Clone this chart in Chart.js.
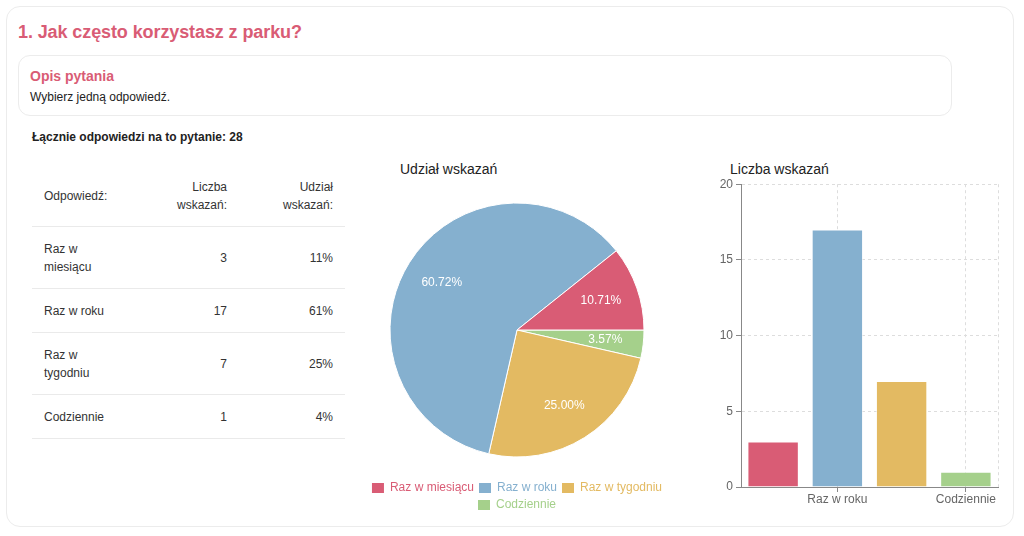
<!DOCTYPE html>
<html lang="pl">
<head>
<meta charset="utf-8">
<script src="https://cdn.jsdelivr.net/npm/chart.js@4"></script>
<style>
  body { margin: 0; background: #fff; font-family: "Liberation Sans", Arial, sans-serif; color: #333; }
  .card { position: absolute; left: 6px; top: 6px; width: 1006px; height: 519px; border: 1px solid #ececec; border-radius: 14px; }
  h1 { position: absolute; left: 18px; top: 20px; margin: 0; font-size: 18px; font-weight: bold; color: #d95c75; line-height: 24px; letter-spacing: -0.1px; }
  .desc { position: absolute; left: 18px; top: 55px; width: 932px; height: 59px; border: 1px solid #ececec; border-radius: 12px; }
  .desc .head { position: absolute; left: 11px; top: 12px; font-size: 14px; font-weight: bold; color: #d95c75; }
  .desc .text { position: absolute; left: 11px; top: 34px; font-size: 12px; color: #222; }
  .total { position: absolute; left: 32px; top: 130px; font-size: 12px; font-weight: bold; color: #222; }
  table { position: absolute; left: 32px; top: 165px; width: 313px; border-collapse: collapse; table-layout: fixed; font-size: 12px; color: #333; }
  th, td { padding: 12.5px 12px; line-height: 18px; font-weight: normal; vertical-align: middle; }
  td { border-top: 1px solid #eaeaea; }
  tbody tr:last-child td { border-bottom: 1px solid #eaeaea; }
  .num { text-align: right; }
  .ctitle { position: absolute; top: 161px; font-size: 14px; color: #222; }
  #pieBox { position: absolute; left: 362px; top: 180px; width: 310px; height: 341px; }
  #barBox { position: absolute; left: 700px; top: 174px; width: 310px; height: 336px; }
</style>
</head>
<body>
<div class="card"></div>
<h1>1. Jak często korzystasz z parku?</h1>
<div class="desc"><div class="head">Opis pytania</div><div class="text">Wybierz jedną odpowiedź.</div></div>
<div class="total" id="total"></div>
<table>
  <colgroup><col style="width:99px"><col style="width:108px"><col style="width:106px"></colgroup>
  <thead><tr><th style="text-align:left">Odpowiedź:</th><th class="num">Liczba wskazań:</th><th class="num">Udział wskazań:</th></tr></thead>
  <tbody id="rows"></tbody>
</table>
<div class="ctitle" style="left:400px">Udział wskazań</div>
<div class="ctitle" style="left:730px">Liczba wskazań</div>
<div id="pieBox"><canvas id="pieChart"></canvas></div>
<div id="barBox"><canvas id="barChart"></canvas></div>
<script>
const categories = ['Raz w miesiącu', 'Raz w roku', 'Raz w tygodniu', 'Codziennie'];
const counts = [3, 17, 7, 1];
const tableShares = ['11%', '61%', '25%', '4%'];
const pieShares = ['10.71%', '60.72%', '25.00%', '3.57%'];
const colors = ['#d95c75', '#85b0cf', '#e3ba62', '#a5d08b'];
const totalAnswers = 28;
const yTicks = [0, 5, 10, 15, 20];

document.getElementById('total').textContent = 'Łącznie odpowiedzi na to pytanie: ' + totalAnswers;

const tbody = document.getElementById('rows');
categories.forEach((cat, i) => {
    const tr = document.createElement('tr');
    tr.innerHTML = `<td>${cat}</td><td class="num">${counts[i]}</td><td class="num">${tableShares[i]}</td>`;
    tbody.appendChild(tr);
});

Chart.defaults.font.family = '"Liberation Sans", Arial, sans-serif';
Chart.defaults.font.size = 12;
Chart.defaults.color = '#666';
Chart.defaults.animation = false;

// pie is drawn counter-clockwise in the original, so feed it in reverse order
const pieLabels = categories.slice().reverse();
const pieValues = counts.slice().reverse();
const pieColors = colors.slice().reverse();
const pieText = pieShares.slice().reverse();

const sliceLabels = {
    id: 'sliceLabels',
    afterDatasetsDraw(chart) {
        const ctx = chart.ctx;
        const meta = chart.getDatasetMeta(0);
        ctx.save();
        ctx.font = '12px "Liberation Sans", Arial, sans-serif';
        ctx.fillStyle = '#fff';
        ctx.textAlign = 'center';
        ctx.textBaseline = 'middle';
        meta.data.forEach((arc, i) => {
            const { x, y, startAngle, endAngle, outerRadius } = arc.getProps(['x', 'y', 'startAngle', 'endAngle', 'outerRadius'], true);
            const mid = (startAngle + endAngle) / 2;
            const r = outerRadius * 0.7;
            ctx.fillText(pieText[i], x + Math.cos(mid) * r, y + Math.sin(mid) * r);
        });
        ctx.restore();
    }
};

new Chart(document.getElementById('pieChart'), {
    type: 'pie',
    data: {
        labels: pieLabels,
        datasets: [{ data: pieValues, backgroundColor: pieColors, borderColor: '#fff', borderWidth: 1 }]
    },
    options: {
        responsive: true,
        maintainAspectRatio: false,
        rotation: 90,
        radius: 127,
        layout: { padding: { top: 3 } },
        plugins: {
            tooltip: { enabled: false },
            legend: {
                position: 'bottom',
                reverse: true,
                labels: {
                    boxWidth: 12,
                    boxHeight: 10,
                    padding: 5,
                    generateLabels(chart) {
                        const items = Chart.overrides.pie.plugins.legend.labels.generateLabels(chart);
                        items.forEach(it => { it.fontColor = it.fillStyle; it.strokeStyle = it.fillStyle; it.lineWidth = 0; });
                        return items;
                    }
                }
            }
        }
    },
    plugins: [sliceLabels]
});

const rightEdge = {
    id: 'rightEdge',
    beforeDatasetsDraw(chart) {
        const { ctx, chartArea } = chart;
        ctx.save();
        ctx.strokeStyle = '#dddddd';
        ctx.lineWidth = 1;
        ctx.setLineDash([3, 3]);
        ctx.beginPath();
        ctx.moveTo(chartArea.right + 0.5, chartArea.top);
        ctx.lineTo(chartArea.right + 0.5, chartArea.bottom);
        ctx.stroke();
        ctx.restore();
    }
};

const shown = i => i % 2 === 1;

new Chart(document.getElementById('barChart'), {
    type: 'bar',
    data: {
        labels: categories,
        datasets: [{
            data: counts,
            backgroundColor: colors,
            borderColor: 'rgba(255,255,255,0.6)',
            borderWidth: 1,
            categoryPercentage: 0.8,
            barPercentage: 1
        }]
    },
    options: {
        responsive: true,
        maintainAspectRatio: false,
        layout: { padding: { top: 8, right: 12 } },
        plugins: { legend: { display: false }, tooltip: { enabled: false } },
        scales: {
            x: {
                grid: {
                    offset: false,
                    color: c => shown(c.index) ? '#dddddd' : 'rgba(0,0,0,0)',
                    tickColor: c => shown(c.index) ? '#888' : 'rgba(0,0,0,0)',
                    tickLength: 5
                },
                border: { color: '#888', dash: [3, 3] },
                ticks: {
                    autoSkip: false,
                    maxRotation: 0,
                    padding: 0,
                    callback: (v, i) => shown(i) ? categories[i] : ''
                },
                afterFit: s => { s.height = 23; }
            },
            y: {
                min: yTicks[0],
                max: yTicks[yTicks.length - 1],
                afterBuildTicks: s => { s.ticks = yTicks.map(v => ({ value: v })); },
                grid: { color: '#dddddd', tickColor: '#888', tickLength: 5 },
                border: { color: '#888', dash: [3, 3] },
                ticks: { padding: 3 },
                afterFit: s => { s.width = 41; }
            }
        }
    },
    plugins: [rightEdge]
});
</script>
</body>
</html>
